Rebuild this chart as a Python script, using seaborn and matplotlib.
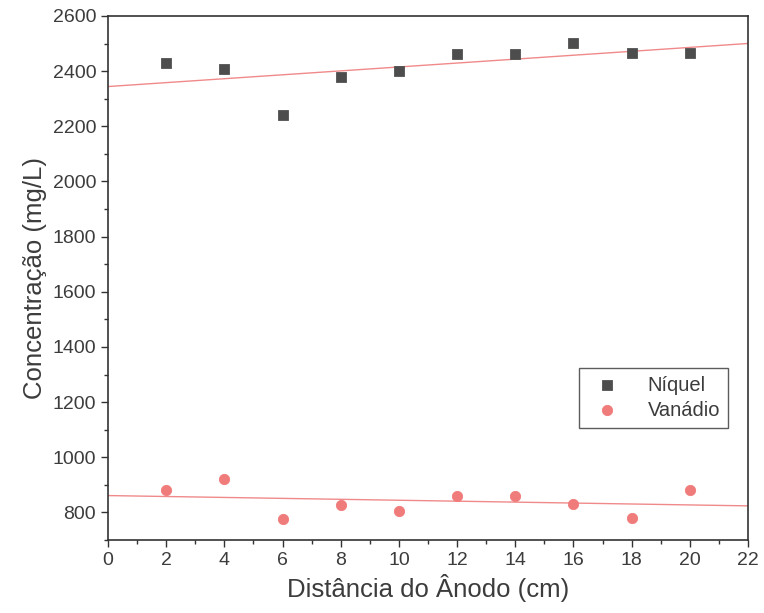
import pandas as pd
import matplotlib.pyplot as plt
import seaborn as sns
from matplotlib.ticker import MultipleLocator

# valores
distancia = [2, 4, 6, 8, 10, 12, 14, 16, 18, 20]
niquel = [2430, 2408, 2242, 2380, 2401, 2463, 2463, 2502, 2466, 2466]
vanadio = [883, 923, 775, 826, 806, 858, 860, 831, 781, 883]

cor_ni = '#4d4d4d'
cor_v = '#f07b7b'
cor_linha = '#f08a8a'
cor_texto = '#3c3c3c'

sns.set_style('ticks')
plt.rcParams['font.family'] = ['Liberation Sans', 'DejaVu Sans']

df = pd.DataFrame({'x': distancia, 'Níquel': niquel, 'Vanádio': vanadio})

fig = plt.figure(figsize=(7.64, 6.13), dpi=100)
ax = fig.add_axes([0.1414, 0.119, 0.8376, 0.855])
ax.set_xlim(0, 22)
ax.set_ylim(700, 2600)

sns.regplot(data=df, x='x', y='Níquel', scatter=False, ci=None, truncate=False,
            color=cor_linha, line_kws={'lw': 1.0}, ax=ax)
sns.regplot(data=df, x='x', y='Vanádio', scatter=False, ci=None, truncate=False,
            color=cor_linha, line_kws={'lw': 1.0}, ax=ax)

sns.scatterplot(data=df, x='x', y='Níquel', marker='s', s=50, color=cor_ni,
                edgecolor=cor_ni, label='Níquel', ax=ax, zorder=3)
sns.scatterplot(data=df, x='x', y='Vanádio', marker='o', s=55, color=cor_v,
                edgecolor=cor_v, label='Vanádio', ax=ax, zorder=3)

ax.set_xlim(0, 22)
ax.set_ylim(700, 2600)
ax.xaxis.set_major_locator(MultipleLocator(2))
ax.xaxis.set_minor_locator(MultipleLocator(1))
ax.yaxis.set_major_locator(MultipleLocator(200))
ax.yaxis.set_minor_locator(MultipleLocator(100))
ax.set_yticks(range(800, 2601, 200))

ax.tick_params(which='major', length=5, width=1, color='#333333',
               labelsize=14, labelcolor=cor_texto)
ax.tick_params(which='minor', length=3, width=1, color='#333333')

for s in ax.spines.values():
    s.set_visible(True)
    s.set_color('#333333')
    s.set_linewidth(1.2)

ax.set_xlabel('Distância do Ânodo (cm)', fontsize=18.5, color=cor_texto)
ax.set_ylabel('Concentração (mg/L)', fontsize=18.5, color=cor_texto)

leg = ax.legend(loc='lower right', bbox_to_anchor=(0.985, 0.195), fontsize=14.5,
                frameon=True, fancybox=False, edgecolor='#333333',
                handletextpad=1.0, borderpad=0.4, labelspacing=0.3)
leg.get_frame().set_linewidth(1.0)
for t in leg.get_texts():
    t.set_color(cor_texto)

fig.savefig('out.png', dpi=100)
